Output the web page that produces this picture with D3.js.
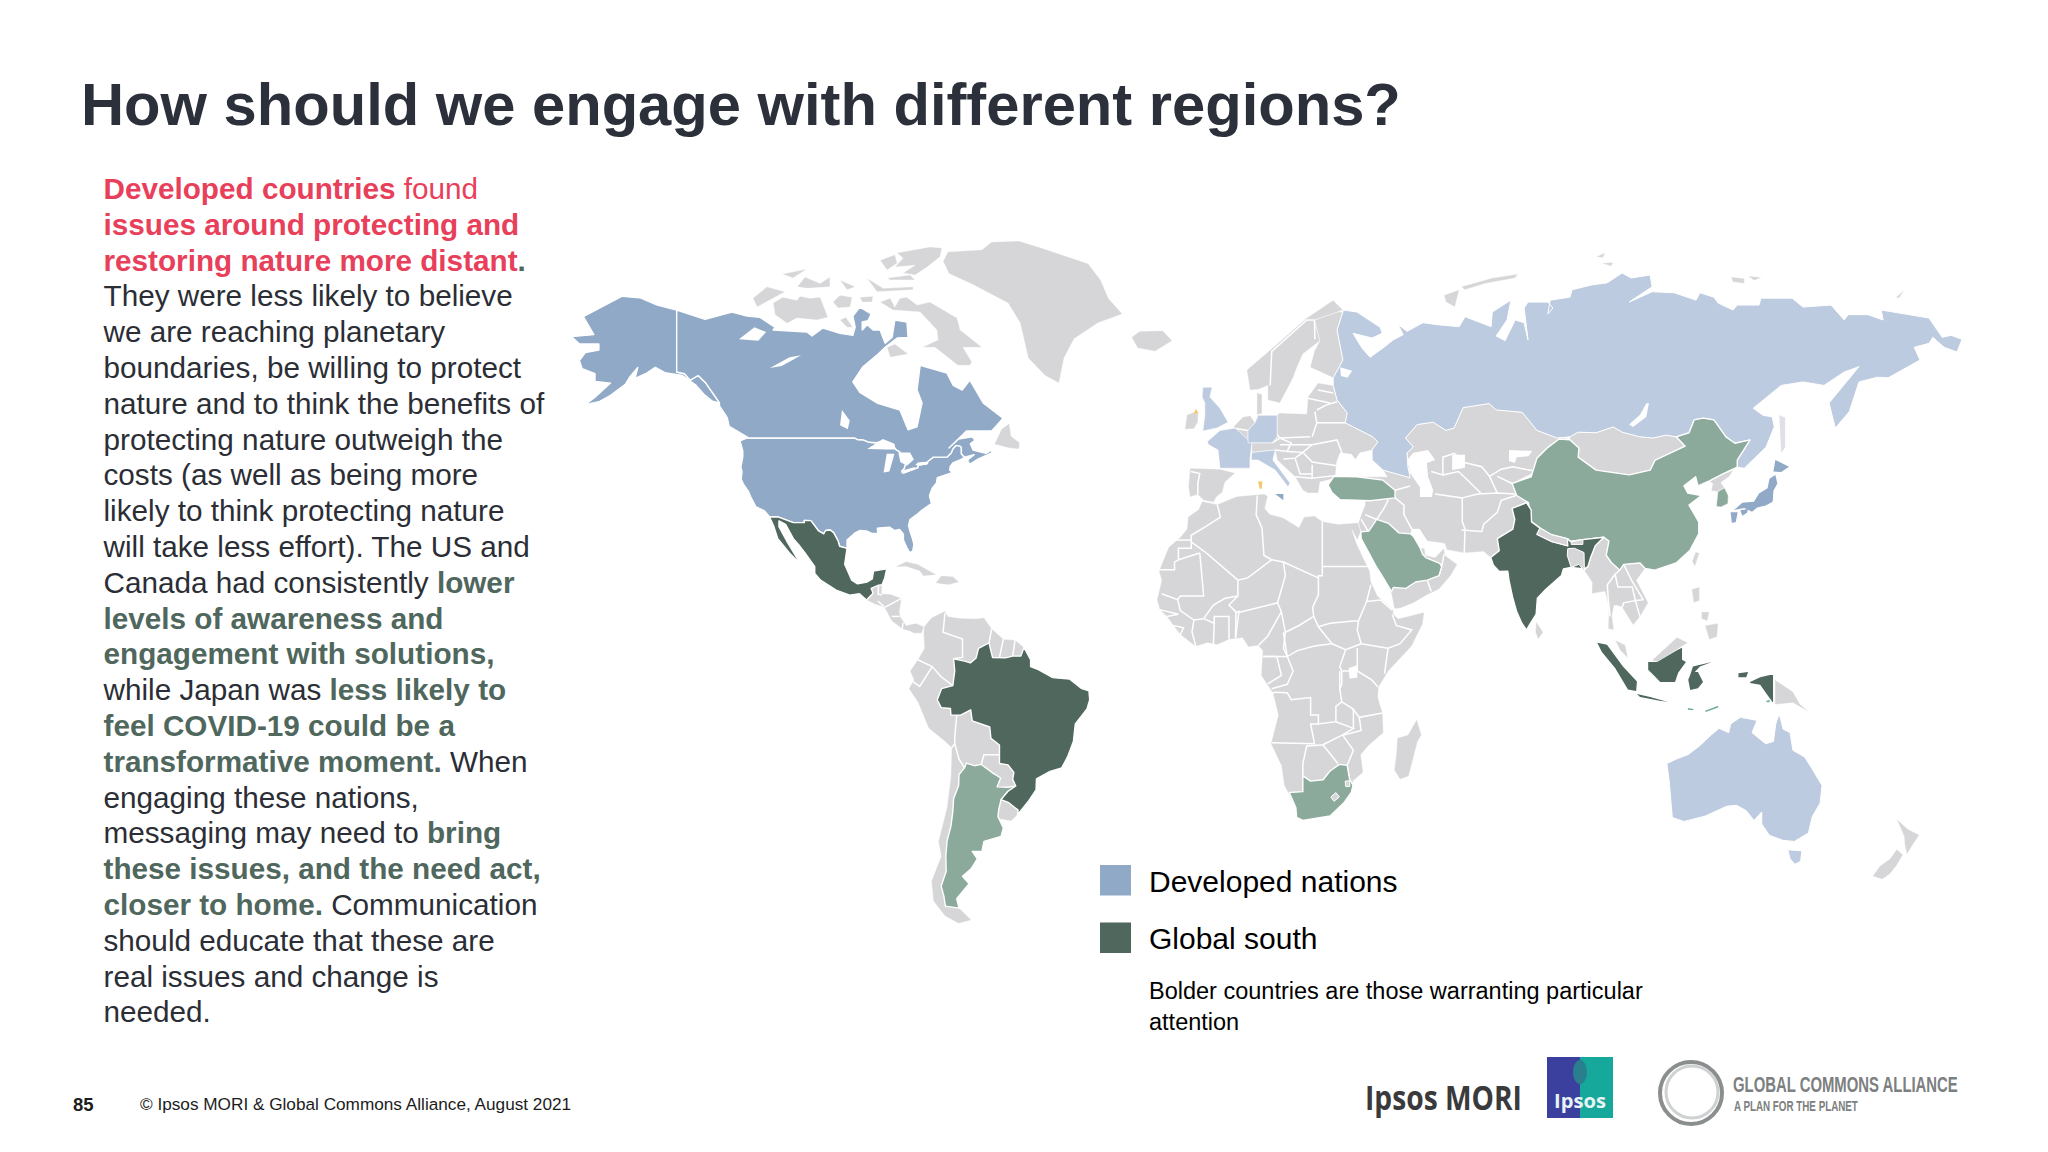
<!DOCTYPE html>
<html>
<head>
<meta charset="utf-8">
<script src="https://cdn.jsdelivr.net/npm/d3@7"></script>
<style>
  body { margin: 0; background: #fff; }
  text { font-family: "Liberation Sans", Arial, sans-serif; }
</style>
</head>
<body>
<div id="chart"></div>
<script>
let usa = [[[-124.7,48.4],[-123,49],[-95.2,49],[-94.6,48.7],[-93,48.6],[-91.5,48.1],[-89.6,48],[-88.4,48.3],[-84.9,46.9],[-84.5,46.5],[-83.6,46.1],[-83.5,45.8],[-82.5,45.3],[-82.1,43.6],[-82.5,42.6],[-83.1,42.1],[-82.7,41.7],[-79,42.8],[-79,43.3],[-76.8,43.6],[-76.3,44.2],[-75,45],[-71.5,45],[-70.4,45.9],[-70,46.7],[-69.2,47.45],[-68.3,47.35],[-67.8,47.07],[-67.8,45.7],[-67,44.9],[-68.5,44.3],[-70,43.8],[-70.7,43],[-70.8,42.3],[-70,41.8],[-71.5,41.4],[-74,40.7],[-74.2,39.6],[-75.3,38.5],[-75.9,37.2],[-76,36.9],[-75.5,35.3],[-76.8,34.6],[-78,33.9],[-79.3,33],[-81,32],[-81.4,30.7],[-81,29.5],[-80.5,28.3],[-80,26.8],[-80.3,25.4],[-81.1,25.1],[-81.8,26.1],[-82.7,27.7],[-82.7,28.9],[-83.7,29.9],[-84.9,29.7],[-86.3,30.4],[-88,30.3],[-89.4,30.2],[-89.3,29.1],[-90.8,29.1],[-92.2,29.6],[-93.8,29.7],[-95.1,29.2],[-97.2,27.7],[-97.2,25.95],[-99.1,26.4],[-99.5,27.5],[-100.6,29.2],[-101.5,29.8],[-102.7,29.7],[-103.2,29],[-104.5,29.6],[-106.5,31.75],[-108.2,31.78],[-108.2,31.33],[-111,31.33],[-114.8,32.5],[-117.1,32.53],[-118.4,33.8],[-120.6,34.6],[-121.9,36.6],[-122.5,37.8],[-123.8,39.3],[-124.4,40.4],[-124.2,42],[-124.5,43],[-124,45],[-124,46.3]],
  [[-141,69.6],[-141,60.3],[-139,60],[-137.5,58.9],[-135.5,59.7],[-133.5,58.4],[-131,56],[-130,55],[-131.8,55.3],[-134,56.5],[-136,58],[-139.5,59.7],[-144,60.2],[-146.5,61],[-149,60],[-151.7,59.2],[-151,61],[-153,59.5],[-154.2,58.2],[-158,56.3],[-161,55.2],[-164.5,54.7],[-162,56],[-158,58.4],[-162,58.7],[-162,60],[-165.3,60.8],[-166,62],[-164.5,63.2],[-161,63.6],[-161,64.5],[-166,64.5],[-168,65.6],[-162.3,65.9],[-165,68.6],[-155,72.4],[-150.5,72.1],[-146,70.6]]];
let canada = [[[-141,69.6],[-133.7,68.2],[-126.8,69.3],[-122.9,68.7],[-119.6,68.5],[-115.7,67],[-116.2,66.6],[-107.5,66.3],[-106.2,65.7],[-103.4,66.9],[-99,66.1],[-95.7,65.8],[-95.1,67],[-95.7,68.7],[-93.9,70.2],[-91,69],[-91.8,68],[-93.3,67.8],[-93.3,66.6],[-92,67.4],[-90.5,66.6],[-88.7,66.6],[-87.4,64.6],[-85.6,65.5],[-84.9,68.1],[-81.8,67.8],[-81.5,65.5],[-84.3,65.4],[-87.4,64],[-89.2,63],[-93.1,61.1],[-95.7,58.6],[-93.9,56.8],[-89.5,55],[-83.6,53.8],[-81.5,50.4],[-79.2,50.9],[-77.9,55],[-79.2,57.2],[-78.4,61.3],[-71.5,60.1],[-69.9,58],[-67.6,57.2],[-65.6,58.9],[-62.2,55],[-57.1,52.4],[-58.5,51.3],[-60,50.2],[-66.5,50.2],[-69,48.5],[-71,46.9],[-68.5,48.8],[-65,49.2],[-64.3,48.5],[-65.5,47.8],[-64.8,46.5],[-61.5,45.8],[-60,46.5],[-60,45.9],[-63.5,44.6],[-65.7,43.5],[-66.2,44.4],[-64.5,45.5],[-67,45],[-67.8,45.7],[-67.8,47.07],[-68.3,47.35],[-69.2,47.45],[-70,46.7],[-70.4,45.9],[-71.5,45],[-75,45],[-76.3,44.2],[-76.8,43.6],[-79,43.3],[-79,42.8],[-82.7,41.7],[-83.1,42.1],[-82.5,42.6],[-82.1,43.6],[-82.5,45.3],[-83.5,45.8],[-83.6,46.1],[-84.5,46.5],[-84.9,46.9],[-88.4,48.3],[-89.6,48],[-91.5,48.1],[-93,48.6],[-94.6,48.7],[-95.2,49],[-123,49],[-122.7,49.1],[-125,50],[-127.5,51],[-128,52.5],[-130,54.5],[-130,55],[-131,56],[-133.5,58.4],[-135.5,59.7],[-137.5,58.9],[-139,60],[-141,60.3]]];
let japan = [[[130.9,34],[133,35.5],[136,35.7],[137.3,37.4],[139.5,38.5],[140,40.5],[141.5,41.3],[142,39.5],[141,38],[140.8,35.7],[139,34.9],[136.8,34.5],[135.5,33.6],[133.5,34.4]],
  [[141,42],[141.5,44.4],[145,43],[143,41.9]],
  [[130,33.5],[131.8,33.5],[131.3,31.4],[130.3,31.3]],
  [[132.5,33.9],[134.5,34.2],[134.2,33.4],[133,32.8]]];
let sicily = [[[12.9,37.3],[15,37.3],[15,36]]];

let russia = [[[30.3,69.6],[33.9,69.3],[39.9,67],[40.4,66.1],[37.8,65.4],[32.9,66.1],[35.2,63.9],[37.3,62.5],[40.6,63.9],[43.2,65.1],[45.8,65.9],[44.5,67.4],[46.8,66.4],[50.9,67.7],[54.5,67.4],[60.2,67.1],[61.7,68.6],[68.4,67.1],[68.7,69.3],[73.5,71.6],[72.5,68.1],[69.7,65.7],[72,65],[74.6,68.1],[76.9,67.7],[77.9,65.1],[76.9,70],[77.9,71.2],[83,71.2],[84.3,70],[83,69],[83.6,71.6],[88.7,72.2],[89.2,73.7],[94.4,74.7],[98.2,75.1],[102.1,77.1],[104.4,76.1],[109.3,76.7],[109.8,74.3],[103.9,71.2],[109.8,73.3],[115.5,73.1],[121.1,71.6],[122.1,73.1],[125.7,72.2],[126.8,71],[130.6,69.6],[131.7,70.6],[137.3,70.6],[137.8,72],[145.8,72],[148.6,70.2],[155.8,70.6],[159.2,68.1],[160.2,68.9],[165.3,68.9],[169.2,68.1],[168.7,69.6],[181,68.4],[184.4,65.5],[186.7,65.8],[189.5,65.2],[188.2,63.3],[184.9,64],[182,65.5],[181,64.6],[177.2,64],[178.7,62.1],[170.5,59.3],[167.7,59.4],[163,58.6],[160.5,53.5],[156.9,50.7],[155.3,55],[163,61.1],[159.2,60.3],[154,58],[148.6,58.6],[143,58],[135.8,54.1],[138.3,52.9],[140.7,52.6],[141.2,50.9],[139.1,47.1],[133.5,42.7],[131.7,42.9],[131.7,44.4],[135,48.6],[131.1,47.9],[128.8,49.2],[125.7,52.1],[122.9,52.4],[120.6,52.1],[119.3,49.9],[116,49.2],[113.4,49.5],[110,49],[106.7,49.2],[102.1,50],[99.8,50.9],[95.4,49.9],[90.8,50],[88.7,49.2],[85.4,49],[80.2,50.3],[76.4,53.4],[69.7,53.8],[67.9,54.9],[61.2,54.2],[58.9,50.7],[56.8,50.3],[53.5,51.7],[49.4,51.3],[46.4,49],[48.4,47.1],[46.8,45.9],[47,43],[47.6,40.7],[40.6,42.3],[37.8,44.4],[37.8,46.5],[39.3,48.2],[38,49.2],[30.9,51.6],[31.4,53.3],[28.8,55.5],[27.8,58],[27.8,59.3],[30.3,62.1],[28.8,66.6],[30.3,69.3]]];
let australia = [[[113.6,-22],[114.2,-26],[115,-34.2],[118,-35],[123.5,-33.9],[129,-31.7],[131.5,-31.5],[134,-32.7],[136,-34.8],[138,-33],[138,-35.5],[140,-37.8],[143.5,-38.8],[146.4,-39],[150,-37.3],[151,-34],[153,-31],[153.5,-27],[150.8,-23],[149,-20.5],[146,-19],[145.3,-15],[143.5,-14.2],[142.5,-10.7],[141.6,-13],[141,-17],[139,-17.5],[135.5,-15],[136.8,-12.2],[132.5,-11.5],[130,-13],[129.5,-15],[127,-14],[125,-15.5],[122,-18],[119,-20],[116,-21]],
  [[144.7,-40.7],[148.3,-40.9],[148,-43],[146.5,-43.6],[145.3,-42.5]]];
let france = [[[-4.6,48.2],[-1.3,50.3],[2.6,50.7],[6.9,48],[6.4,44.4],[6.4,42.7],[-1.3,42.7],[-1.8,46.5],[-4.2,47.6]]];
let germany = [[[5.9,50.3],[7.7,51.6],[8.5,52.9],[13.4,52.9],[13.4,49.2],[12.1,48],[5.9,48]]];
let britain = [[[-5.7,57.7],[-3.3,57.7],[-3.9,56],[-1.3,54.1],[0.8,51.7],[-2.1,50.7],[-5.7,50.2],[-5.2,52.9],[-5.2,55],[-5.9,56]]];
let italy = [[[6.9,46],[12.9,46.5],[12.3,44.4],[16.7,39.6],[16.2,38.8],[12.9,42.3],[8.5,44.4],[6.7,44.4]]];

let brazil = [[[-51.7,4.2],[-50,1.5],[-50,0],[-48,-0.7],[-44.3,-2.5],[-40,-2.8],[-37,-4.9],[-35,-5.5],[-34.8,-7.5],[-35.5,-9.6],[-38.5,-13],[-39,-17],[-40.5,-20.5],[-42,-23],[-45,-23.8],[-48.5,-25.5],[-48.6,-28],[-50.5,-30.5],[-53.4,-33.7],[-53.2,-32.6],[-55.6,-30.9],[-57.6,-30.2],[-55.8,-28.3],[-53.8,-27.1],[-54.6,-25.6],[-54.3,-24],[-55.8,-22.3],[-58,-22],[-58,-20],[-58,-17.8],[-60.2,-16.3],[-60.5,-13.7],[-65,-12.3],[-65.4,-9.8],[-68,-11],[-70.5,-11],[-70.6,-9.5],[-73,-9.3],[-74,-7.5],[-72.9,-5],[-70,-4.3],[-69.5,-1],[-69.8,1.7],[-67,1.2],[-65.5,0.8],[-64,1.9],[-63.4,4],[-60.7,5.2],[-59.8,2],[-56.5,1.9],[-54.6,2.3],[-52.5,2.3]]];
let mexico = [[[-117.1,32.53],[-114.8,32.5],[-111,31.33],[-108.2,31.33],[-108.2,31.78],[-106.5,31.75],[-104.5,29.6],[-103.2,29],[-102.7,29.7],[-101.5,29.8],[-100.6,29.2],[-99.5,27.5],[-99.1,26.4],[-97.2,25.95],[-97.8,22.5],[-96,19],[-94.5,18.2],[-92,18.6],[-90.7,19.3],[-90.4,21],[-87,21.5],[-87.5,19.5],[-88.2,18],[-89.1,17.9],[-91,17.2],[-90.5,16.1],[-92.2,14.6],[-94,16],[-96.5,15.7],[-100,16.8],[-104,19],[-105.5,20.5],[-105.5,22],[-108,25],[-109.4,26.5],[-111,28],[-113,31],[-114.7,31.7],[-114.7,30.5],[-112.7,27.5],[-110.5,24.5],[-109.5,23],[-110.3,23.5],[-112,25],[-115,28],[-116,30.5]]];
let india = [[[73.8,34.3],[77.5,35.5],[78.7,34],[78.8,31.5],[81,30.2],[80.2,28.9],[84,27.4],[88.1,26.5],[88,28],[88.8,27.4],[92,27.8],[97.4,28.3],[95.2,26.5],[94,24],[93.3,22],[92.4,21.5],[88.9,21.8],[87,21.5],[86.5,20],[82.5,17],[80.3,15],[80,11.5],[78.2,9],[77.5,8],[76.3,9.5],[75,12],[74,15],[73,19],[72.7,21],[70.5,20.9],[69,22.3],[68.3,24],[70.5,25.5],[70,28],[74,30],[74.5,32]]];
let indonesia = [[[95.7,5.2],[98.2,4.8],[102.3,0],[105.9,-3.4],[105.7,-5.5],[103.6,-5.2],[100.3,-0.3],[96.9,3.2]],
  [[108.8,1],[111.1,1],[116.2,3.6],[117.5,4.1],[117.5,1.5],[118.5,1],[116.5,-1.4],[115.7,-3.5],[111.9,-3.5],[110.6,-2.3],[108.8,-0.7]],
  [[105.9,-6.2],[109.3,-6.9],[113.9,-8],[111.1,-7.6],[106.7,-6.9]],
  [[119.6,-1.9],[120.3,0],[125.2,1],[122.1,0],[120.8,-1.2],[121.6,-1.2],[122.9,-3.5],[121.6,-4.9],[119.6,-5.3],[119.1,-3]],
  [[135,-3.5],[137.6,-2.4],[140.1,-1.9],[140.9,-1.9],[140.9,-8.2],[139.4,-6.4],[137.6,-4.1],[135,-3.7]],
  [[132,-1.5],[134.5,-1.2],[134,-2.4],[132,-2.4]]];
let sundaTeal = [[[119,-9.4],[120.4,-9.6],[120.4,-9.9],[119,-9.8]],[[123.4,-10],[126.8,-8.9],[126.8,-9.3],[123.6,-10.3]],[[139.2,-7.8],[140,-7.5],[140,-8.1],[139.2,-8.1]]];

let china = [[[73.8,39.5],[78.7,40.9],[80.2,44.8],[83.1,47.1],[85.9,48.8],[88.7,48.6],[91,46.9],[90.8,45],[95.4,42.3],[103.9,41.3],[109.3,42.3],[110.6,44.4],[118.3,47.3],[116,49.2],[119.3,49.9],[120.6,52.1],[122.9,52.4],[125.7,52.1],[128.8,49.2],[131.1,47.9],[135,48.6],[131.7,44.4],[131.7,42.9],[128,41.5],[124.4,40],[121.6,39],[121,40.9],[118,39],[119,37.5],[122.5,37],[119.3,35],[121.8,31.5],[121.8,29],[119.5,25.5],[116,22.8],[110.5,21.2],[108,21.6],[106.7,22.8],[102.5,22.5],[101.5,21.2],[99.3,22.9],[98,24.5],[98.7,27.5],[97.4,28.3],[92,27.8],[88.8,27.4],[88,28],[84,28.8],[81,30.2],[78.8,31.5],[78,35.5],[75,37]]];
let turkey = [[[26.5,39.2],[28,41],[33.9,40.9],[40.6,40.2],[43.7,38.1],[43.7,36.5],[37.3,35.9],[29.6,36.1],[27.5,37.6]]];
let saudi = [[[34.9,29.4],[37,29.6],[39,32],[42,31.2],[44.7,29.2],[47.7,29],[48.5,28.4],[50.2,26],[50.8,24.7],[51.6,24],[55.2,22.7],[55.7,22],[55,20],[52,19],[49,18.6],[46.5,17.2],[43.3,17.4],[42.8,16.5],[40.5,19.8],[39,21.8],[37,25],[35,28]]];
let argentina = [[[-66.5,-21.9],[-64.5,-22.5],[-62.7,-22.2],[-60,-24],[-57.7,-25.3],[-58.6,-27.3],[-55.8,-27.4],[-53.8,-27.1],[-55.8,-28.3],[-57.6,-30.2],[-58.2,-32.5],[-58.4,-34],[-57,-36.3],[-57.6,-38],[-62,-39],[-62.5,-41],[-65,-41],[-63.7,-42.5],[-65.3,-44.5],[-67.5,-46],[-65.8,-47.5],[-69,-50.5],[-68.4,-52.4],[-71.9,-52],[-72.3,-50],[-73,-48],[-71.7,-45],[-71.8,-42],[-71.5,-39],[-70.5,-36],[-70,-33],[-69.8,-30],[-68.5,-27],[-68.4,-24.5],[-67,-23]]];
let southAfrica = [[[16.5,-28.6],[20,-28.4],[20,-24.8],[22,-26],[25.2,-25.7],[27,-23.7],[29.4,-22.2],[31.4,-22.4],[32,-25.5],[32.9,-26.9],[32.5,-28.5],[30.5,-31],[27,-33.9],[20,-34.8],[18.4,-34.2],[18.2,-32]]];
let southKorea = [[[126.7,37.8],[128.4,38.6],[129.4,37],[129.3,35.3],[127.5,34.6],[126.3,34.7],[126.6,37]]];

let greenland = [[-72.5,79.5],[-71.2,81.4],[-62.5,81.8],[-60,83.4],[-53,83.6],[-47.6,82.3],[-35.2,79],[-32,75.7],[-30,72],[-26.4,69],[-32.6,67.7],[-38.8,65.3],[-41.4,62.4],[-42.7,58.4],[-46.3,59.7],[-50.6,62.4],[-52.7,67.7],[-55.8,71],[-65,74.8],[-71,77]];
let arcticCanada = [
  [[-121.4,72],[-117.8,74.3],[-113.1,73.3],[-116.2,72],[-120.3,70.2]],
  [[-116.2,71],[-113.7,72.2],[-110.1,71.6],[-109.3,72.4],[-106.7,72],[-104.1,72.2],[-102.1,68.5],[-104.9,68.1],[-110.1,68.4],[-112.6,67.6],[-115.7,68.9]],
  [[-113.9,76.9],[-107.5,77.9],[-111.1,76.1]],
  [[-110,74.3],[-108,76.3],[-104.1,75],[-101.6,76.3],[-101.6,74.3],[-107.5,74]],
  [[-99,75.7],[-95.1,74.3],[-97.2,73.7]],
  [[-100.8,71.2],[-99,72.6],[-95.9,72.2],[-96.4,70.2],[-99.5,70]],
  [[-93.9,72.2],[-90.5,72.4],[-90.8,71.2],[-93.3,71.2]],
  [[-99,68.1],[-97.5,68.5],[-95.7,67],[-97.2,67]],
  [[-92.1,76.1],[-87.9,74],[-80.2,74.3],[-80.2,73.7],[-89.5,73.3]],
  [[-88.7,79.7],[-84.9,80.8],[-84.3,79.1],[-86.9,77.7]],
  [[-84.3,81.2],[-75.9,82.4],[-72.8,82.2],[-73.3,80.4],[-76.6,78.3],[-79.7,76.7],[-82.8,77.1],[-79.7,78.7],[-84.9,78.3],[-82.8,80.1]],
  [[-86.9,76.1],[-81,76.7],[-79.7,75.7],[-86.1,75.7]],
  [[-88.7,71.2],[-86.1,72],[-84.9,70.2],[-83.6,72],[-81.8,72.2],[-79.2,70.6],[-75.9,71.2],[-68.9,68.4],[-68.1,66.6],[-62.5,64],[-67.4,64],[-65.1,61.8],[-65.6,61.3],[-68.7,61.3],[-74.6,64],[-77.9,64],[-73.8,65.1],[-74.1,66.6],[-78.4,69.3],[-85.4,69.6]],
  [[-86.9,64],[-84.9,64.5],[-81.5,63],[-86.1,62.5]],
  [[-59.3,47.7],[-55.5,46.9],[-53,46.7],[-52.8,48],[-55,49.3],[-55.5,51.5],[-57.5,50.5]]];
let otherIslands = [
  [[-24,65.5],[-22,66.4],[-16,66.5],[-13.6,65],[-18,63.4],[-22.5,63.9]],
  [[-84.9,21.9],[-82,23.1],[-79,22.5],[-74.2,20.2],[-77.6,19.9],[-78.5,21],[-82,22]],
  [[-74.4,18.4],[-73,20],[-70,19.8],[-68.4,18.6],[-71,18],[-72.5,18.1]],
  [[-10.3,50.5],[-9.8,53],[-8,53.4],[-6.9,53.2],[-7,51.7],[-8,50.6]],
  [[49.3,-12],[50.5,-15.5],[49.5,-17],[47.2,-24.9],[45,-25.6],[43.5,-23.5],[44,-20],[44.3,-16.2],[47,-15.5]],
  [[80,9.8],[81.8,7.5],[80.5,6],[79.8,7.5]],
  [[121,25.2],[122,25],[120.8,22],[120.1,23.2]],
  [[60.7,74.3],[68.7,76.1],[75.3,76.9],[74.6,76.1],[66.9,75],[61.7,73.7]],
  [[56.3,72.6],[60.2,73.7],[59.1,70.2],[56.8,71.2]],
  [[95.4,80.4],[97.7,81.2],[97.2,80.2]],
  [[96.9,79.1],[99.8,79.3],[99.3,78.5]],
  [[130.1,76.3],[133.5,76],[133.5,75],[130.6,75.3]],
  [[134.5,76.5],[138,76.2],[136,75.6]],
  [[172.5,72.2],[174.7,73.7],[173.3,72]],
  [[120,17],[122,17.5],[122,14.5],[120.5,14]],
  [[123.4,9],[126.8,9.5],[126.5,6.5],[124.5,5.9]],
  [[122.5,12],[124.5,12],[124,10],[122.5,10.5]],
  [[172.7,-34.5],[175.5,-36.5],[178.5,-37.7],[177,-39.5],[175.3,-41.6],[174.8,-39.8],[174.6,-38]],
  [[172.7,-40.6],[174.3,-41.7],[172.7,-43.8],[171,-45.5],[169,-46.6],[166.5,-46],[168.3,-44],[171,-42.5]]];
let restAmericas = [
  [[-77.4,8.7],[-75.5,10.7],[-72,12.2],[-71.3,11],[-68,10.6],[-64,10.5],[-62,10.7],[-60,8.3],[-57,6],[-54,5.8],[-51.7,4.2],[-50,1.5],[-50,0],[-48,-0.7],[-44.3,-2.5],[-40,-2.8],[-37,-4.9],[-35,-5.5],[-34.8,-7.5],[-35.5,-9.6],[-38.5,-13],[-39,-17],[-40.5,-20.5],[-42,-23],[-45,-23.8],[-48.5,-25.5],[-48.6,-28],[-50.5,-30.5],[-53.4,-33.7],[-55,-34.9],[-57.9,-34.5],[-58.4,-34],[-57,-36.3],[-57.6,-38],[-62,-39],[-62.5,-41],[-65,-41],[-63.7,-42.5],[-65.3,-44.5],[-67.5,-46],[-65.8,-47.5],[-69,-50.5],[-68.4,-52.4],[-65.2,-54.8],[-68.5,-55.5],[-72,-54],[-75,-51],[-75.5,-47],[-73,-42],[-73.7,-39],[-71.5,-32],[-70.5,-25],[-70.3,-18.4],[-72,-17],[-76.2,-14],[-79,-8],[-81.3,-5],[-80,-3],[-81,-1],[-79,1.5],[-77.3,4],[-77.5,7]],
  [[-92.2,14.6],[-90.5,16.1],[-91,17.2],[-89.1,17.9],[-88.2,18],[-88.3,16],[-86,15.9],[-83.2,15],[-83.7,12],[-83.5,10.9],[-82,9],[-79.5,9.5],[-77.4,8.7],[-78,7.3],[-80,7.3],[-81,7.7],[-83,8.2],[-85.7,10],[-87.6,13],[-90,13.7]]];
let africa = [[-5.9,35.8],[-2,35.1],[3,36.8],[10,37.3],[11,36.9],[10.2,34.3],[11.5,33.1],[15,32.3],[19,30.3],[20.3,32.5],[23,32.7],[25,31.6],[29,31],[32.5,31.2],[34.2,31.3],[34.9,29.5],[34,27.7],[32.6,29.9],[33.8,27],[35.5,24],[37.2,21],[37.5,18.7],[39.2,15.5],[43.2,12.5],[43.3,11.5],[44.5,10.5],[51.2,11.9],[50.8,9.3],[48,4.5],[42,-1],[39.5,-4.6],[39.3,-7],[40.5,-10.5],[40.7,-15],[36.8,-18],[34.9,-20],[35.5,-24],[32.9,-26],[32.5,-28.5],[30.5,-31],[27,-33.9],[20,-34.8],[18.4,-34.2],[18.2,-32],[15.2,-27],[14.5,-22.5],[11.8,-17.5],[13.7,-11],[12.3,-6],[9.3,-2],[9.5,1],[9.7,3.5],[8.5,4.6],[6,4.3],[4.5,6.3],[1,5.9],[-2,4.8],[-4.5,5.2],[-7.6,4.4],[-11.5,7],[-13.3,9],[-15,11],[-16.8,12.5],[-17.5,14.7],[-16.3,19],[-17,21],[-14.5,26.2],[-11.5,28.3],[-9.8,30],[-9.5,32.5],[-6.8,34.1]];
let eurasiaGrey = [
  [[-9,42.7],[-1.3,42.5],[2.6,41.7],[0,39.8],[-0.7,37.7],[-2.1,36.8],[-3,35.6],[-5.5,36],[-7,37.2],[-9,36.7],[-9.4,38.8]],
  [[5.6,60.6],[6.4,57.2],[8.5,57.3],[11,58],[11,55.5],[14.1,55],[17.5,59.3],[18.5,61],[20,63],[24.4,65],[23,68.1],[29,69.3],[30.3,69.6],[27.8,71.6],[21,68.4],[11.6,63.6]],
  [[21.9,61],[27.8,59.3],[30.3,62.1],[28.8,66.6],[30.3,69.3],[29,69.3],[23,68.1],[24.4,65],[23,63.5]],
  [[8.2,56.7],[9.5,56.5],[9.5,53.2],[8.2,53]],
  [[2,50.8],[4.6,52.6],[6.5,52.8],[7.7,51.6],[5.9,50.3],[5.9,48.5],[2.6,50.7]],
  [[6.9,48],[12.1,48],[13.4,49.2],[13.4,52.9],[14,53.3],[21,53.1],[21.3,56],[23.9,58.4],[27.8,58],[28.8,55.5],[31.4,53.3],[30.9,51.6],[38,49.2],[39.3,48.2],[37.8,46.5],[34.7,45.9],[33.5,44.5],[32.5,45.6],[29.6,45.9],[28.7,44],[28.3,40.6],[24.4,39.8],[24,37.5],[21.3,37.5],[20,38.1],[18,40.9],[13.4,44.4],[12.9,46.5],[6.9,46]],
  [[46.4,49],[49.4,51.3],[53.5,51.7],[56.8,50.3],[58.9,50.7],[61.2,54.2],[67.9,54.9],[69.7,53.8],[76.4,53.4],[80.2,50.3],[85.4,49],[88,49],[83,47],[80.5,45],[80,42],[73.8,39.5],[75,37],[78,35.5],[77.5,35.5],[73.8,34.3],[74.5,32],[74,30],[70,28],[70.5,25.5],[68.3,24],[66.5,25.3],[61.5,25],[57,25.7],[56.5,27],[52,27.5],[50,30],[48,30],[47.7,29],[48.5,28.4],[50.2,26],[51.3,26],[51.5,24.5],[54,24],[56.3,26],[56.5,24.5],[59.7,22.5],[58,20],[55,17],[52,15.8],[48.5,14],[45,12.8],[43.5,12.7],[42.8,16],[40.5,19.8],[39,21.8],[37,25],[35,28],[34.9,29.5],[34.3,31.3],[35,33],[36,35],[36,35.9],[30,36.1],[27.5,37.6],[26.5,39.2],[28,41],[33.9,40.9],[41.7,40.9],[40.6,42.3],[47.6,41.5],[47,43],[46.8,45.9],[48.4,47.1]],
  [[88.7,49.2],[90.8,50],[95.4,49.9],[99.8,50.9],[102.1,50],[106.7,49.2],[110,49],[113.4,49.5],[116,49.2],[118.3,47.3],[110.6,44.4],[109.3,42.3],[103.9,41.3],[95.4,42.3],[90.8,45],[91,46.9],[88.7,48.6]],
  [[92.4,21],[93.3,22],[94,24],[95.2,26.5],[97.4,28.3],[98.7,27.5],[98,24.5],[99.3,22.9],[101.5,21.2],[102.5,22.5],[106.7,22.8],[108,21.6],[105.8,19],[108.8,14],[106.7,10.9],[104.9,9.1],[103.6,10.9],[102.1,13],[100.9,13.4],[100,13.4],[99.5,11],[100,8],[98.5,8.3],[98.7,13],[97.7,16.5],[96,16.3],[94.3,16],[94.4,18.5],[92.9,20.5]],
  [[100.3,5.8],[102.9,4.7],[103.6,1.9],[101.6,3.6]],
  [[124.4,40],[128,41.5],[130.7,42.3],[129.7,41],[127.5,39.7],[128.4,38.6],[126.7,37.8],[125,38],[125.4,39.5]],
  [[109.8,1.4],[116.2,6.4],[119,5.2],[116.5,3.9],[111.1,1]],
  [[141.4,-3],[146,-5.7],[147.9,-8.6],[150.4,-10.4],[146,-8.2],[141.4,-8.6]]];
// grey neighbours that sit on top of India and South Africa
let enclaves = [
  [[88,24.4],[88.1,25.9],[89.8,26],[92.3,25.1],[92.4,21],[91,22.5],[89,21.8]],
  [[80.2,28.9],[81,30.2],[84,28.8],[88,28],[88.1,26.5],[84,27.4]],
  [[89,27.3],[92,27.8],[92,26.8],[89,26.8]],
  [[27.2,-29.6],[28.5,-28.6],[29.4,-29.6],[28,-30.6]],
  [[30.9,-26],[32,-25.9],[32.1,-27.2],[31,-27.2]]];
let sakhalin = [[[142.5,52.9],[144,52.5],[144,47],[143,45.9],[142.8,49]]];
let waters = [
  [[-92,46.7],[-88,48.8],[-85,47.8],[-84.7,46.6],[-87,46.6]],
  [[-87.8,41.8],[-86.3,42],[-85,45.7],[-87,45.7]],
  [[-84,46],[-81,46],[-80,44.5],[-81.8,43.2],[-83.5,44]],
  [[-83.3,41.6],[-79,42.7],[-80,42.9],[-83,42.2]],
  [[-79.7,43.3],[-76.3,43.5],[-76.4,44.1],[-79,43.9]],
  [[-125,65.2],[-121,67],[-118,66.3],[-120,65]],
  [[-117,60.9],[-112,62.5],[-109,62.8],[-114,61.2]],
  [[-99,51.2],[-97,50.5],[-96.5,52],[-98.5,53.8]],
  [[46.8,44.4],[48.4,45.9],[52.2,46.5],[54,44.4],[51.9,43.8],[52.2,40.9],[53.5,38.2],[53.2,36.7],[50.1,36.7],[50.1,38.7],[47.6,41.7]],
  [[58.4,45.5],[61.7,45.5],[61.7,42.8],[58.4,42.3]],
  [[73,46.5],[79,46.3],[78,45.2],[75,45],[74.5,43.8],[73,44.2]],
  [[109,55],[108.3,52.6],[104.9,50.9],[103.9,51.3],[106.7,53],[108.3,54.9]],
  [[29.6,61],[32.7,60.5],[31.5,59.3],[29.8,59.6]],
  [[31.8,-0.3],[34,0.3],[34,-2.5],[32,-2.7]]];
let yellowSpots = [
  [[-8,53.2],[-7.5,54],[-6.8,53.2]],
  [[8.5,39.9],[9.6,39.9],[9.4,38.4],[8.9,38.4]]];
let borderLines = [
  [[-2,35.1],[-1.2,32.5],[-5,30.5],[-8.7,28.7],[-8.7,27.3]],[[-13,27.7],[-8.7,27.7]],[[-17,21.3],[-13,21.3],[-13,23],[-12,23.5],[-12,26],[-8.7,26],[-8.7,27.3]],
  [[-4.8,25],[-8.7,27.3]],[[-12,23.5],[-6.5,25]],[[-6.5,25],[-5.5,15.5],[-11.5,15.5],[-12.2,14.7],[-16.3,16]],
  [[8.3,37],[8,33],[9.5,30.2]],[[9.5,30.2],[10,24.5],[12,23.5]],[[-4.8,25],[3.3,19],[5.8,19.5],[12,23.5]],
  [[25,31.6],[25,22]],[[25,22],[36.9,22]],[[12,23.5],[15,23],[24,19.5],[24,20],[25,20],[25,22]],
  [[15,23],[15.5,20],[13.5,14],[4,12],[2.8,12],[1,13.5],[3.3,15.5],[3.3,19]],
  [[24,19.5],[24,15.7],[22.5,13],[22.8,11],[19,9],[15.5,7.5],[14.5,12],[13.5,14]],
  [[-5.5,10.5],[-8,10.2],[-11.5,12.3],[-12.2,14.7]],[[3.3,15.5],[0,15],[-3,13.5],[-5.5,10.5]],
  [[-7.5,4.4],[-8.5,7.6],[-8,10.2]],[[-5.5,10.5],[-2.8,9.5],[-3,5]],[[-2.8,9.5],[-2.8,11],[1,11],[1,6]],[[2.8,12],[2.7,6.3]],
  [[3.6,12.3],[2.7,6.3]],[[8.6,4.6],[11,6.7],[13.8,11],[14.5,12]],[[-13.3,9],[-10.7,8.5],[-11.5,7]],[[-15,11],[-12,11.5],[-16.8,12.5]],
  [[9.8,2.2],[16,2.2],[15,7.5]],[[15.5,7.5],[15,4],[16,2.2],[18.6,3.5],[23,4.5],[27.5,5],[24,8.7],[22.8,11]],
  [[24,8.7],[27,9.5],[33,10],[34.3,10]],[[36.4,14.3],[34.3,10],[34,8],[35,5]],[[37.5,18],[36.4,14.3],[40,14.6],[43,12.4]],
  [[43,11.4],[44,9],[48,8],[45,5],[41.9,4],[41,-1.6]],[[35,5],[41.9,4]],[[34,4],[34,-1],[37.7,-3],[39.3,-4.6]],
  [[27.5,5],[31,3.7],[35,5]],[[31,3.7],[29.5,0],[30,-1],[34,-1]],
  [[12,-6],[13,-5.8],[16,-5.9],[17,-7.5],[22,-7],[22,-11],[24,-11],[24,-13],[28.5,-12.5],[28.5,-9],[30,-8],[29.5,-5],[29.5,-1]],
  [[16,2.2],[17.5,-1],[16,-4],[12,-5]],[[9.8,2.2],[13.3,2.2],[14.5,-2],[11,-3.9]],[[30,-1],[30,-4],[29.5,-5]],[[30,-8],[32.8,-9.5],[34.5,-11.5],[40.5,-10.5]],
  [[12,-17.3],[23,-17.5],[22,-13],[24,-13]],[[20,-24.8],[20,-22],[21,-18],[25,-17.8]],[[25.2,-17.8],[29,-22]],[[25,-17.8],[30,-15.6],[33,-14],[28.5,-12.5]],
  [[32,-25.5],[31.4,-22.4],[33,-19],[30.3,-15.6]],[[30.3,-15.6],[35,-14.5],[34.5,-11.5]],[[33,-14],[33,-9.5]],
  [[43.7,36.5],[46,35],[46,33],[48,30]],[[54,37.3],[61,36.5],[61,31.5],[61.7,30],[61.5,25]],[[60.8,29.8],[66,29.5],[66.5,31],[70,33.5],[71,36],[74.8,37]],
  [[61,36.5],[65,37.3],[70,37.5],[75,37.3]],[[53,42],[56,41.3],[56,45],[59,45.8],[61,44],[66,43],[68,41],[71,42.5],[74,43],[80,42]],
  [[56,41.3],[60,42],[62,40.5],[66,37.3]],[[70,41],[73.8,39.5]],[[68,41],[70,37.5]],
  [[42,36.2],[41,34.5],[39,32]],[[36,33],[39,32]],[[35,32],[36.9,29.4]],[[52,19],[53,16.5]],[[55,20],[55.7,22],[56.3,24.7]],[[43.7,38.1],[47.6,39]],
  [[23.1,53.5],[23.6,51.6],[22.4,49.2]],[[21.3,55.8],[27,55]],[[23.9,57.2],[27.8,56.7]],[[23.6,53.8],[26.2,54.7],[28.8,55.2]],[[23.6,51.6],[30.9,51.6]],
  [[12.3,50.4],[14.1,49],[21.9,49.2]],[[14.1,47.6],[22.4,47.6]],[[20,46],[22.4,47.6],[28.8,48.6],[30.3,45.4]],[[20,46],[22.4,44],[28.8,43.2]],[[22.4,43.4],[22.4,40.6],[28.8,41.2]],
  [[12.1,48],[14.1,49],[17,48],[16,46.2],[12.9,46.5]],[[16,46.2],[20,46]],[[15,44.6],[18,44.8],[20,46]],[[18,44.8],[19.3,41.5],[22.4,41.5]],[[18,40.9],[22.4,40.6]],
  [[-8.8,42],[-6.5,41.6],[-7,39.6],[-7,37.2]],[[2,50.7],[5.9,50.3]],[[11.6,58],[12,63.4],[21,68.1],[23,68.1]],[[23,68.1],[23.1,65.2]],
  [[100.3,20.3],[98.3,18],[98.5,15],[99,11]],[[101.5,21.2],[100.3,20.3],[101,17.5],[104.7,17.5],[105.5,14.5],[107.5,14.7],[104.5,19],[102.5,22.5]],[[102.1,13],[102.5,14],[105.5,14.5],[106.7,10.9]],
  [[-72,11.8],[-72.5,7.5],[-67.5,6],[-67.5,2],[-69.8,1.7]],[[-79,1.5],[-75.3,0],[-73,-2.3],[-70,-4.3]],[[-80.3,-3.4],[-78.5,-4.5],[-75.3,0]],[[-60,8.3],[-60.7,5.2]],[[-57,6],[-58,2]],[[-54,5.8],[-54.6,2.3]],
  [[-69,-11],[-69.5,-16],[-69.5,-17.5],[-70.3,-18.4]],[[-69.5,-17.5],[-68.4,-21],[-67,-23]],[[-62.7,-22.2],[-62,-20],[-58,-20]],
  [[-89.1,17.9],[-89.2,15.9],[-88.2,15.7]],[[-89.3,14.4],[-87.7,13.2]],[[-87.5,13],[-83.2,15]],[[-85.7,11],[-83.7,11]],[[-83,8.2],[-82.8,9.6]]];

// body copy: [text, style]
let bodyLines = [
  [["Developed countries","red"],[" found","redThin"]],
  [["issues around protecting and","red"]],
  [["restoring nature more distant","red"],[".","green"]],
  [["They were less likely to believe","plain"]],
  [["we are reaching planetary","plain"]],
  [["boundaries, be willing to protect","plain"]],
  [["nature and to think the benefits of","plain"]],
  [["protecting nature outweigh the","plain"]],
  [["costs (as well as being more","plain"]],
  [["likely to think protecting nature","plain"]],
  [["will take less effort). The US and","plain"]],
  [["Canada had consistently ","plain"],["lower","green"]],
  [["levels of awareness and","green"]],
  [["engagement with solutions,","green"]],
  [["while Japan was ","plain"],["less likely to","green"]],
  [["feel COVID-19 could be a","green"]],
  [["transformative moment.","green"],[" When","plain"]],
  [["engaging these nations,","plain"]],
  [["messaging may need to ","plain"],["bring","green"]],
  [["these issues, and the need act,","green"]],
  [["closer to home.","green"],[" Communication","plain"]],
  [["should educate that these are","plain"]],
  [["real issues and change is","plain"]],
  [["needed.","plain"]]
];
let legendLabels = ["Developed nations", "Global south"];
let legendNote = ["Bolder countries are those warranting particular", "attention"];

let svg = d3.select("#chart").append("svg")
    .attr("width", 2048)
    .attr("height", 1152);

let lonScale = d3.scaleLinear().domain([-180, 190]).range([525, 1964]);
let latScale = d3.scaleLinear()
    .domain([-56, -33.7, -7, 0, 8, 25, 49, 60.3, 69.6, 83.6])
    .range([926, 815, 697.5, 666.6, 630, 553, 438, 372, 310, 241]);

let mapPath = d3.geoPath(d3.geoTransform({
    point: function (lon, lat) {
        this.stream.point(lonScale(lon), latScale(lat));
    }
}));

let mapGroup = svg.append("g");

function drawPolys(polys, fill, strokeWidth) {
    polys.forEach(function (ring) {
        mapGroup.append("path")
            .datum({ type: "Polygon", coordinates: [ring.concat([ring[0]])] })
            .attr("d", mapPath)
            .attr("fill", fill)
            .attr("stroke", "#fff")
            .attr("stroke-width", strokeWidth)
            .attr("stroke-linejoin", "round");
    });
}

let grey = "#d6d6d9";
drawPolys([greenland].concat(arcticCanada, otherIslands, restAmericas, [africa], eurasiaGrey), grey, 0.4);

mapGroup.selectAll(".border")
    .data(borderLines)
    .enter()
    .append("path")
    .attr("class", "border")
    .attr("d", d => mapPath({ type: "LineString", coordinates: d }))
    .attr("fill", "none")
    .attr("stroke", "#fff")
    .attr("stroke-width", 1.5);

let devStrong = "#8fa9c7";
let devLight = "#bccbdf";
let southStrong = "#4f675d";
let southLight = "#8caa9c";

drawPolys(russia.concat(australia), devLight, 1);
drawPolys(france.concat(germany, britain, italy), devLight, 0.6);
drawPolys(usa.concat(canada), devStrong, 1.4);
drawPolys(japan.concat(sicily), devStrong, 0);
drawPolys(china.concat(turkey, saudi, argentina, southAfrica), southLight, 1.4);
drawPolys(southKorea, southLight, 0.6);
drawPolys(brazil.concat(mexico, india), southStrong, 1.4);
drawPolys(indonesia, southStrong, 0);
drawPolys(enclaves, grey, 1);
drawPolys(sakhalin, "#dfe1e6", 0);
drawPolys(sundaTeal, "#6fae98", 0);
drawPolys(waters, "#fff", 0);
drawPolys(yellowSpots, "#f6c667", 0);

// title and body
svg.append("text")
    .attr("x", 81)
    .attr("y", 125)
    .attr("font-size", 59.7)
    .attr("font-weight", "bold")
    .attr("fill", "#2b303a")
    .text("How should we engage with different regions?");

let runStyles = {
    red: { fill: "#e8405a", weight: "bold" },
    redThin: { fill: "#e8405a", weight: "normal" },
    green: { fill: "#4f675d", weight: "bold" },
    plain: { fill: "#2b2e35", weight: "normal" }
};

let bodyText = svg.append("g");
bodyLines.forEach(function (runs, i) {
    let line = bodyText.append("text")
        .attr("x", 103.5)
        .attr("y", 199 + i * 35.8)
        .attr("font-size", 29.7);
    runs.forEach(function (run) {
        line.append("tspan")
            .attr("fill", runStyles[run[1]].fill)
            .attr("font-weight", runStyles[run[1]].weight)
            .style("white-space", "pre")
            .text(run[0]);
    });
});

// legend
let legendY = d3.scalePoint().domain(legendLabels).range([880, 937.5]);
let legendColor = d3.scaleOrdinal().domain(legendLabels).range([devStrong, southStrong]);
legendLabels.forEach(function (label, i) {
    svg.append("rect")
        .attr("x", 1100)
        .attr("y", legendY(label) - 15)
        .attr("width", 31)
        .attr("height", 30.5)
        .attr("fill", legendColor(label));
    svg.append("text")
        .attr("x", 1149)
        .attr("y", legendY(label) + 12 - i)
        .attr("font-size", 30)
        .attr("fill", "#000")
        .text(label);
});
legendNote.forEach(function (line, i) {
    svg.append("text")
        .attr("x", 1149)
        .attr("y", 999 + i * 31)
        .attr("font-size", 23.5)
        .attr("fill", "#000")
        .text(line);
});

// footer
svg.append("text").attr("x", 73).attr("y", 1111).attr("font-size", 18.5)
    .attr("font-weight", "bold").attr("fill", "#1c1c1c").text("85");
svg.append("text").attr("x", 140).attr("y", 1110).attr("font-size", 17.2)
    .attr("fill", "#1c1c1c").text("© Ipsos MORI & Global Commons Alliance, August 2021");

// logo wordmarks are narrower than any installed face, so squeeze them
function logoText(x, y, size, width, color, family, label) {
    let t = svg.append("text")
        .attr("font-size", size)
        .attr("font-weight", "bold")
        .attr("fill", color)
        .style("font-family", family)
        .text(label);
    let natural = t.node().getComputedTextLength();
    t.attr("transform", `translate(${x}, ${y}) scale(${width / natural}, 1)`);
}

logoText(1365, 1110, 34, 157, "#3a3a3c", "'Open Sans'", "Ipsos MORI");

svg.append("rect").attr("x", 1547).attr("y", 1057).attr("width", 33).attr("height", 61).attr("fill", "#3b3f9e");
svg.append("rect").attr("x", 1580).attr("y", 1057).attr("width", 33).attr("height", 61).attr("fill", "#16a89b");
svg.append("ellipse").attr("cx", 1580).attr("cy", 1072).attr("rx", 7).attr("ry", 12).attr("fill", "#2a7f8f");
logoText(1554, 1108, 20, 52, "#e8f4f4", "'Open Sans'", "Ipsos");

svg.append("circle").attr("cx", 1691).attr("cy", 1093).attr("r", 31).attr("fill", "none")
    .attr("stroke", "#8b8e8e").attr("stroke-width", 4);
svg.append("circle").attr("cx", 1692).attr("cy", 1092).attr("r", 26).attr("fill", "none")
    .attr("stroke", "#cfd2d2").attr("stroke-width", 3);
logoText(1733, 1092, 22, 225, "#7c8080", "'Liberation Sans'", "GLOBAL COMMONS ALLIANCE");
logoText(1734, 1111, 14, 124, "#7c8080", "'Liberation Sans'", "A PLAN FOR THE PLANET");
</script>
</body>
</html>
